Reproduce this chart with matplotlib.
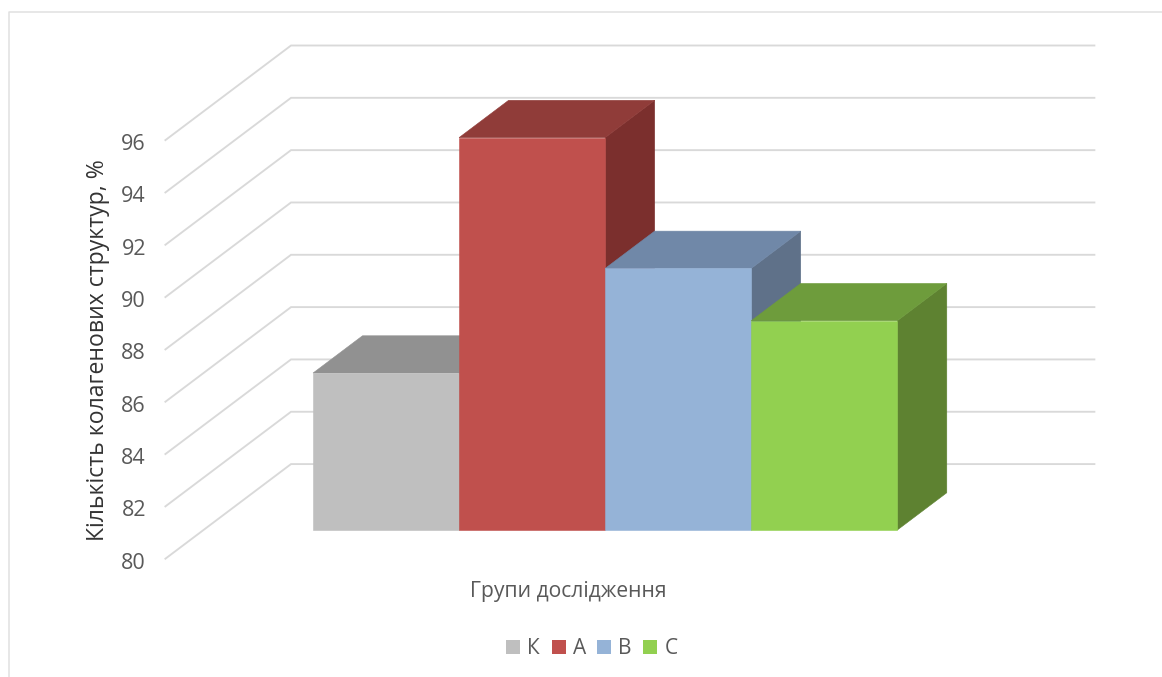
import matplotlib
matplotlib.use('Agg')
import matplotlib.pyplot as plt
from matplotlib.lines import Line2D
from matplotlib.patches import Patch, Polygon
from matplotlib.transforms import ScaledTranslation

plt.rcParams['font.family'] = ['Open Sans', 'DejaVu Sans']

# Дані діаграми
groups = ['К', 'А', 'В', 'С']
values = [86, 95, 90, 88]
value_ticks = [80, 82, 84, 86, 88, 90, 92, 94, 96]

front_colors = ['#BFBFBF', '#C0504D', '#95B3D7', '#92D050']
top_colors = ['#919191', '#903C39', '#7088A8', '#6E9C3C']
side_colors = ['#7D7D7D', '#7B2F2D', '#5F7189', '#5E8231']

GRID_COLOR = '#D9D9D9'
TICK_COLOR = '#595959'

# Псевдо-3D: зсув задньої стінки у одиницях осей (ширина стовпця = 1)
DEPTH_X = 0.86
DEPTH_Y = 3.617
GAP = 0.75
BAR_NEAR = 0.303
BAR_FAR = 0.697

FIG_W, FIG_H = 1162, 677
AX_LEFT, AX_WIDTH = 165.4, 929
AX_BOTTOM, AX_TOP = 558.7, 45.5


def project(x, value, depth):
    return (x + depth * DEPTH_X, value + depth * DEPTH_Y)


def draw_bar(ax, i, value, base):
    left = GAP + i
    right = left + 1
    front = [project(left, base, BAR_NEAR), project(right, base, BAR_NEAR),
             project(right, value, BAR_NEAR), project(left, value, BAR_NEAR)]
    top = [project(left, value, BAR_NEAR), project(right, value, BAR_NEAR),
           project(right, value, BAR_FAR), project(left, value, BAR_FAR)]
    side = [project(right, base, BAR_NEAR), project(right, base, BAR_FAR),
            project(right, value, BAR_FAR), project(right, value, BAR_NEAR)]
    for pts, color in ((side, side_colors[i]), (top, top_colors[i]), (front, front_colors[i])):
        ax.add_patch(Polygon(pts, closed=True, facecolor=color, edgecolor=color, linewidth=0.4, zorder=3 + i))


fig = plt.figure(figsize=(FIG_W / 100, FIG_H / 100), dpi=100)
ax = fig.add_axes([AX_LEFT / FIG_W, 1 - AX_BOTTOM / FIG_H, AX_WIDTH / FIG_W, (AX_BOTTOM - AX_TOP) / FIG_H])

x_end = 2 * GAP + len(groups) + DEPTH_X
ax.set_xlim(0, x_end)
ax.set_ylim(value_ticks[0], value_ticks[-1] + DEPTH_Y)
for spine in ax.spines.values():
    spine.set_visible(False)

# Сітка на бічній і задній стінках
for v in value_ticks:
    xs = [0, DEPTH_X, x_end]
    ys = [v, v + DEPTH_Y, v + DEPTH_Y]
    ax.plot(xs, ys, color=GRID_COLOR, linewidth=1.35, zorder=1, clip_on=False, solid_joinstyle='miter')

for i, v in enumerate(values):
    draw_bar(ax, i, v, value_ticks[0])

ax.set_xticks([])
ax.set_yticks(value_ticks)
ax.tick_params(axis='y', length=0, pad=14, labelsize=15.5, labelcolor=TICK_COLOR)
# Підписи значень трохи нижче лінії сітки
tick_shift = ScaledTranslation(0, -2 / 100, fig.dpi_scale_trans)
for label in ax.get_yticklabels():
    label.set_transform(label.get_transform() + tick_shift)

ax.set_xlabel('Групи дослідження', fontsize=15.2, color=TICK_COLOR)
ax.xaxis.set_label_coords((568 - AX_LEFT) / AX_WIDTH, -(591 - AX_BOTTOM) / (AX_BOTTOM - AX_TOP), transform=ax.transAxes)
ax.xaxis.label.set_verticalalignment('center')

ax.set_ylabel('Кількість колагенових структур, %', fontsize=16.6, color='#333333')
ax.yaxis.set_label_coords((98 - AX_LEFT) / AX_WIDTH, (AX_BOTTOM - 350) / (AX_BOTTOM - AX_TOP), transform=ax.transAxes)
ax.yaxis.label.set_verticalalignment('center')

handles = [Patch(facecolor=c, edgecolor='none') for c in front_colors]
fig.legend(handles, groups, ncol=4, loc='center', bbox_to_anchor=(592 / FIG_W, 1 - 649 / FIG_H),
           frameon=False, fontsize=15, labelcolor=TICK_COLOR, handlelength=0.67, handleheight=0.67,
           handletextpad=0.34, columnspacing=0.55)

# Рамка області діаграми
fig.add_artist(Line2D([9 / FIG_W, 9 / FIG_W, 1], [0, 1 - 12 / FIG_H, 1 - 12 / FIG_H],
                      color='#E0E0E0', linewidth=1.1))

plt.savefig('out.png', dpi=100)
